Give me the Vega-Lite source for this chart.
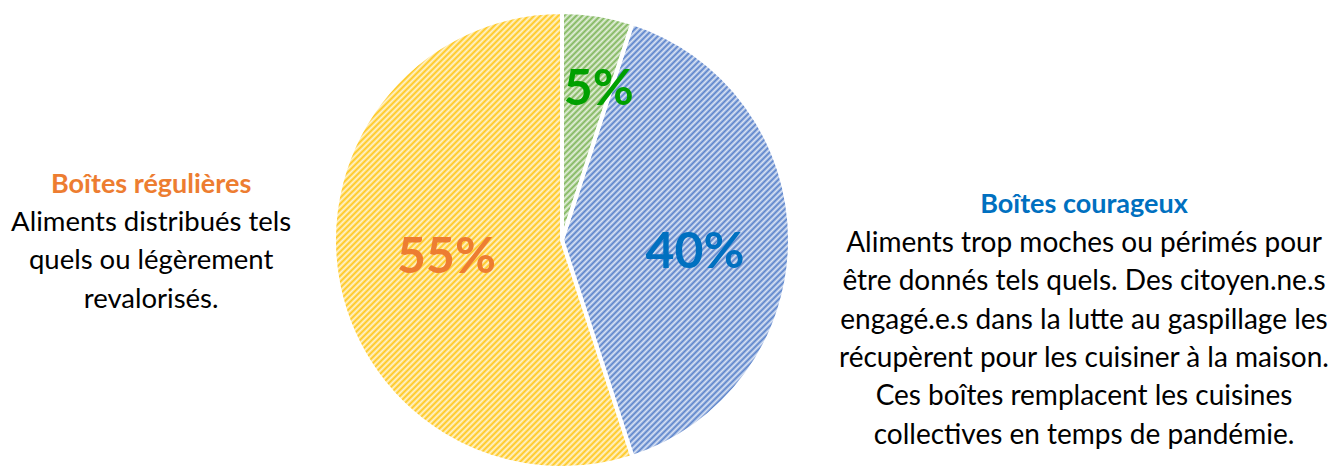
{
  "$schema": "https://vega.github.io/schema/vega-lite/v6.json",
  "width": 1124,
  "height": 458,
  "padding": {"left": 0, "top": 11, "right": 204, "bottom": 0},
  "autosize": {"type": "none"},
  "background": "#ffffff",
  "config": {"view": {"stroke": null}},
  "data": {
    "values": [
      {"cat": "vert", "ord": 1, "value": 5, "pct": "5%", "titre": "", "texte": ""},
      {"cat": "courageux", "ord": 2, "value": 40, "pct": "40%", "titre": "Boîtes courageux", "texte": "Aliments trop moches ou périmés pour\nêtre donnés tels quels. Des citoyen.ne.s\nengagé.e.s dans la lutte au gaspillage les\nrécupèrent pour les cuisiner à la maison.\nCes boîtes remplacent les cuisines\ncollectives en temps de pandémie."},
      {"cat": "regulieres", "ord": 3, "value": 55, "pct": "55%", "titre": "Boîtes régulières", "texte": "Aliments distribués tels\nquels ou légèrement\nrevalorisés."}
    ]
  },
  "encoding": {
    "theta": {"field": "value", "type": "quantitative", "stack": true},
    "order": {"field": "ord", "type": "quantitative"},
    "detail": {"field": "cat", "type": "nominal"}
  },
  "layer": [
    {
      "mark": {"type": "arc", "outerRadius": 228},
      "encoding": {
        "color": {"field": "cat", "type": "nominal", "legend": null,
          "scale": {"domain": ["vert", "courageux", "regulieres"], "range": ["#70AD47", "#4472C4", "#FFC000"]}}
      }
    },
    {
      "transform": [{"aggregate": [{"op": "sum", "field": "value", "as": "value"}]}],
      "mark": {"type": "arc", "outerRadius": 228,
        "fill": {"gradient": "linear", "x1": 0.1316, "y1": 0.1316, "x2": 0.9539, "y2": 0.9539,
          "stops": [
{"offset":0.000,"color":"#fff2"},{"offset":0.004,"color":"#fffc"},{"offset":0.008,"color":"#fff2"},{"offset":0.012,"color":"#fffc"},{"offset":0.016,"color":"#fff2"},{"offset":0.020,"color":"#fffc"},{"offset":0.024,"color":"#fff2"},{"offset":0.028,"color":"#fffc"},{"offset":0.032,"color":"#fff2"},{"offset":0.036,"color":"#fffc"},{"offset":0.040,"color":"#fff2"},{"offset":0.044,"color":"#fffc"},{"offset":0.048,"color":"#fff2"},{"offset":0.052,"color":"#fffc"},{"offset":0.056,"color":"#fff2"},{"offset":0.060,"color":"#fffc"},{"offset":0.064,"color":"#fff2"},{"offset":0.068,"color":"#fffc"},{"offset":0.072,"color":"#fff2"},{"offset":0.076,"color":"#fffc"},{"offset":0.080,"color":"#fff2"},{"offset":0.084,"color":"#fffc"},{"offset":0.088,"color":"#fff2"},{"offset":0.092,"color":"#fffc"},{"offset":0.096,"color":"#fff2"},
{"offset":0.100,"color":"#fffc"},{"offset":0.104,"color":"#fff2"},{"offset":0.108,"color":"#fffc"},{"offset":0.112,"color":"#fff2"},{"offset":0.116,"color":"#fffc"},{"offset":0.120,"color":"#fff2"},{"offset":0.124,"color":"#fffc"},{"offset":0.128,"color":"#fff2"},{"offset":0.132,"color":"#fffc"},{"offset":0.136,"color":"#fff2"},{"offset":0.140,"color":"#fffc"},{"offset":0.144,"color":"#fff2"},{"offset":0.148,"color":"#fffc"},{"offset":0.152,"color":"#fff2"},{"offset":0.156,"color":"#fffc"},{"offset":0.160,"color":"#fff2"},{"offset":0.164,"color":"#fffc"},{"offset":0.168,"color":"#fff2"},{"offset":0.172,"color":"#fffc"},{"offset":0.176,"color":"#fff2"},{"offset":0.180,"color":"#fffc"},{"offset":0.184,"color":"#fff2"},{"offset":0.188,"color":"#fffc"},{"offset":0.192,"color":"#fff2"},{"offset":0.196,"color":"#fffc"},
{"offset":0.200,"color":"#fff2"},{"offset":0.204,"color":"#fffc"},{"offset":0.208,"color":"#fff2"},{"offset":0.212,"color":"#fffc"},{"offset":0.216,"color":"#fff2"},{"offset":0.220,"color":"#fffc"},{"offset":0.224,"color":"#fff2"},{"offset":0.228,"color":"#fffc"},{"offset":0.232,"color":"#fff2"},{"offset":0.236,"color":"#fffc"},{"offset":0.240,"color":"#fff2"},{"offset":0.244,"color":"#fffc"},{"offset":0.248,"color":"#fff2"},{"offset":0.252,"color":"#fffc"},{"offset":0.256,"color":"#fff2"},{"offset":0.260,"color":"#fffc"},{"offset":0.264,"color":"#fff2"},{"offset":0.268,"color":"#fffc"},{"offset":0.272,"color":"#fff2"},{"offset":0.276,"color":"#fffc"},{"offset":0.280,"color":"#fff2"},{"offset":0.284,"color":"#fffc"},{"offset":0.288,"color":"#fff2"},{"offset":0.292,"color":"#fffc"},{"offset":0.296,"color":"#fff2"},
{"offset":0.300,"color":"#fffc"},{"offset":0.304,"color":"#fff2"},{"offset":0.308,"color":"#fffc"},{"offset":0.312,"color":"#fff2"},{"offset":0.316,"color":"#fffc"},{"offset":0.320,"color":"#fff2"},{"offset":0.324,"color":"#fffc"},{"offset":0.328,"color":"#fff2"},{"offset":0.332,"color":"#fffc"},{"offset":0.336,"color":"#fff2"},{"offset":0.340,"color":"#fffc"},{"offset":0.344,"color":"#fff2"},{"offset":0.348,"color":"#fffc"},{"offset":0.352,"color":"#fff2"},{"offset":0.356,"color":"#fffc"},{"offset":0.360,"color":"#fff2"},{"offset":0.364,"color":"#fffc"},{"offset":0.368,"color":"#fff2"},{"offset":0.372,"color":"#fffc"},{"offset":0.376,"color":"#fff2"},{"offset":0.380,"color":"#fffc"},{"offset":0.384,"color":"#fff2"},{"offset":0.388,"color":"#fffc"},{"offset":0.392,"color":"#fff2"},{"offset":0.396,"color":"#fffc"},
{"offset":0.400,"color":"#fff2"},{"offset":0.404,"color":"#fffc"},{"offset":0.408,"color":"#fff2"},{"offset":0.412,"color":"#fffc"},{"offset":0.416,"color":"#fff2"},{"offset":0.420,"color":"#fffc"},{"offset":0.424,"color":"#fff2"},{"offset":0.428,"color":"#fffc"},{"offset":0.432,"color":"#fff2"},{"offset":0.436,"color":"#fffc"},{"offset":0.440,"color":"#fff2"},{"offset":0.444,"color":"#fffc"},{"offset":0.448,"color":"#fff2"},{"offset":0.452,"color":"#fffc"},{"offset":0.456,"color":"#fff2"},{"offset":0.460,"color":"#fffc"},{"offset":0.464,"color":"#fff2"},{"offset":0.468,"color":"#fffc"},{"offset":0.472,"color":"#fff2"},{"offset":0.476,"color":"#fffc"},{"offset":0.480,"color":"#fff2"},{"offset":0.484,"color":"#fffc"},{"offset":0.488,"color":"#fff2"},{"offset":0.492,"color":"#fffc"},{"offset":0.496,"color":"#fff2"},
{"offset":0.500,"color":"#fffc"},{"offset":0.504,"color":"#fff2"},{"offset":0.508,"color":"#fffc"},{"offset":0.512,"color":"#fff2"},{"offset":0.516,"color":"#fffc"},{"offset":0.520,"color":"#fff2"},{"offset":0.524,"color":"#fffc"},{"offset":0.528,"color":"#fff2"},{"offset":0.532,"color":"#fffc"},{"offset":0.536,"color":"#fff2"},{"offset":0.540,"color":"#fffc"},{"offset":0.544,"color":"#fff2"},{"offset":0.548,"color":"#fffc"},{"offset":0.552,"color":"#fff2"},{"offset":0.556,"color":"#fffc"},{"offset":0.560,"color":"#fff2"},{"offset":0.564,"color":"#fffc"},{"offset":0.568,"color":"#fff2"},{"offset":0.572,"color":"#fffc"},{"offset":0.576,"color":"#fff2"},{"offset":0.580,"color":"#fffc"},{"offset":0.584,"color":"#fff2"},{"offset":0.588,"color":"#fffc"},{"offset":0.592,"color":"#fff2"},{"offset":0.596,"color":"#fffc"},
{"offset":0.600,"color":"#fff2"},{"offset":0.604,"color":"#fffc"},{"offset":0.608,"color":"#fff2"},{"offset":0.612,"color":"#fffc"},{"offset":0.616,"color":"#fff2"},{"offset":0.620,"color":"#fffc"},{"offset":0.624,"color":"#fff2"},{"offset":0.628,"color":"#fffc"},{"offset":0.632,"color":"#fff2"},{"offset":0.636,"color":"#fffc"},{"offset":0.640,"color":"#fff2"},{"offset":0.644,"color":"#fffc"},{"offset":0.648,"color":"#fff2"},{"offset":0.652,"color":"#fffc"},{"offset":0.656,"color":"#fff2"},{"offset":0.660,"color":"#fffc"},{"offset":0.664,"color":"#fff2"},{"offset":0.668,"color":"#fffc"},{"offset":0.672,"color":"#fff2"},{"offset":0.676,"color":"#fffc"},{"offset":0.680,"color":"#fff2"},{"offset":0.684,"color":"#fffc"},{"offset":0.688,"color":"#fff2"},{"offset":0.692,"color":"#fffc"},{"offset":0.696,"color":"#fff2"},
{"offset":0.700,"color":"#fffc"},{"offset":0.704,"color":"#fff2"},{"offset":0.708,"color":"#fffc"},{"offset":0.712,"color":"#fff2"},{"offset":0.716,"color":"#fffc"},{"offset":0.720,"color":"#fff2"},{"offset":0.724,"color":"#fffc"},{"offset":0.728,"color":"#fff2"},{"offset":0.732,"color":"#fffc"},{"offset":0.736,"color":"#fff2"},{"offset":0.740,"color":"#fffc"},{"offset":0.744,"color":"#fff2"},{"offset":0.748,"color":"#fffc"},{"offset":0.752,"color":"#fff2"},{"offset":0.756,"color":"#fffc"},{"offset":0.760,"color":"#fff2"},{"offset":0.764,"color":"#fffc"},{"offset":0.768,"color":"#fff2"},{"offset":0.772,"color":"#fffc"},{"offset":0.776,"color":"#fff2"},{"offset":0.780,"color":"#fffc"},{"offset":0.784,"color":"#fff2"},{"offset":0.788,"color":"#fffc"},{"offset":0.792,"color":"#fff2"},{"offset":0.796,"color":"#fffc"},
{"offset":0.800,"color":"#fff2"},{"offset":0.804,"color":"#fffc"},{"offset":0.808,"color":"#fff2"},{"offset":0.812,"color":"#fffc"},{"offset":0.816,"color":"#fff2"},{"offset":0.820,"color":"#fffc"},{"offset":0.824,"color":"#fff2"},{"offset":0.828,"color":"#fffc"},{"offset":0.832,"color":"#fff2"},{"offset":0.836,"color":"#fffc"},{"offset":0.840,"color":"#fff2"},{"offset":0.844,"color":"#fffc"},{"offset":0.848,"color":"#fff2"},{"offset":0.852,"color":"#fffc"},{"offset":0.856,"color":"#fff2"},{"offset":0.860,"color":"#fffc"},{"offset":0.864,"color":"#fff2"},{"offset":0.868,"color":"#fffc"},{"offset":0.872,"color":"#fff2"},{"offset":0.876,"color":"#fffc"},{"offset":0.880,"color":"#fff2"},{"offset":0.884,"color":"#fffc"},{"offset":0.888,"color":"#fff2"},{"offset":0.892,"color":"#fffc"},{"offset":0.896,"color":"#fff2"},
{"offset":0.900,"color":"#fffc"},{"offset":0.904,"color":"#fff2"},{"offset":0.908,"color":"#fffc"},{"offset":0.912,"color":"#fff2"},{"offset":0.916,"color":"#fffc"},{"offset":0.920,"color":"#fff2"},{"offset":0.924,"color":"#fffc"},{"offset":0.928,"color":"#fff2"},{"offset":0.932,"color":"#fffc"},{"offset":0.936,"color":"#fff2"},{"offset":0.940,"color":"#fffc"},{"offset":0.944,"color":"#fff2"},{"offset":0.948,"color":"#fffc"},{"offset":0.952,"color":"#fff2"},{"offset":0.956,"color":"#fffc"},{"offset":0.960,"color":"#fff2"},{"offset":0.964,"color":"#fffc"},{"offset":0.968,"color":"#fff2"},{"offset":0.972,"color":"#fffc"},{"offset":0.976,"color":"#fff2"},{"offset":0.980,"color":"#fffc"},{"offset":0.984,"color":"#fff2"},{"offset":0.988,"color":"#fffc"},{"offset":0.992,"color":"#fff2"},{"offset":0.996,"color":"#fffc"},
{"offset":1.000,"color":"#fff2"}
          ]}}
    },
    {
      "mark": {"type": "arc", "outerRadius": 228, "fillOpacity": 0, "stroke": "#ffffff", "strokeWidth": 4, "strokeJoin": "round"}
    },
    {
      "mark": {"type": "text", "radius": 152, "dx": 13, "font": "Lato", "fontWeight": "bold", "fontSize": 50, "color": "#00A000", "align": "center", "baseline": "middle"},
      "encoding": {"text": {"condition": {"test": "datum.cat === 'vert'", "field": "pct", "type": "nominal"}, "value": ""}}
    },
    {
      "mark": {"type": "text", "radius": 133, "dy": 13, "font": "Lato", "fontWeight": "bold", "fontSize": 50, "color": "#0070C0", "align": "center", "baseline": "middle"},
      "encoding": {"text": {"condition": {"test": "datum.cat === 'courageux'", "field": "pct", "type": "nominal"}, "value": ""}}
    },
    {
      "mark": {"type": "text", "radius": 117, "font": "Lato", "fontWeight": "bold", "fontSize": 50, "color": "#ED7D31", "align": "center", "baseline": "middle"},
      "encoding": {"text": {"condition": {"test": "datum.cat === 'regulieres'", "field": "pct", "type": "nominal"}, "value": ""}}
    },
    {
      "mark": {"type": "text", "radius": 522, "dy": -35, "font": "Lato", "fontWeight": "bold", "fontSize": 27, "color": "#0070C0", "align": "center", "baseline": "middle"},
      "encoding": {"text": {"condition": {"test": "datum.cat === 'courageux'", "field": "titre", "type": "nominal"}, "value": ""}}
    },
    {
      "mark": {"type": "text", "radius": 522, "dy": 4, "font": "Lato", "fontSize": 28, "lineHeight": 38.3, "lineBreak": "\n", "color": "#000000", "align": "center", "baseline": "middle"},
      "encoding": {"text": {"condition": {"test": "datum.cat === 'courageux'", "field": "texte", "type": "nominal"}, "value": ""}}
    },
    {
      "mark": {"type": "text", "radius": 416, "dy": -120, "font": "Lato", "fontWeight": "bold", "fontSize": 27, "color": "#ED7D31", "align": "center", "baseline": "middle"},
      "encoding": {"text": {"condition": {"test": "datum.cat === 'regulieres'", "field": "titre", "type": "nominal"}, "value": ""}}
    },
    {
      "mark": {"type": "text", "radius": 416, "dy": -82, "font": "Lato", "fontSize": 27.5, "lineHeight": 38.3, "lineBreak": "\n", "color": "#000000", "align": "center", "baseline": "middle"},
      "encoding": {"text": {"condition": {"test": "datum.cat === 'regulieres'", "field": "texte", "type": "nominal"}, "value": ""}}
    }
  ]
}
